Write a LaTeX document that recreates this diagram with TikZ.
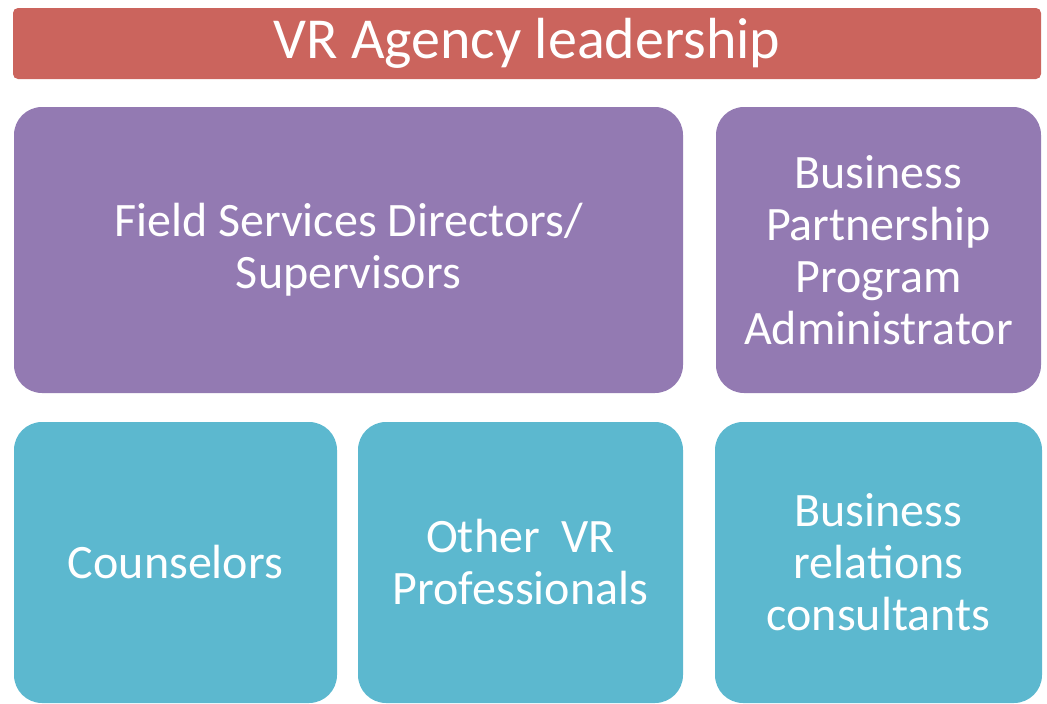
\documentclass[tikz,border=0pt]{standalone}
\usepackage{fontspec}
\setmainfont{Carlito}
\definecolor{leadred}{HTML}{CB645D}
\definecolor{midpurple}{HTML}{937AB2}
\definecolor{staffteal}{HTML}{5CB8CF}
\tikzset{
  unit/.style={fill=#1, text=white, align=center, inner sep=0pt,
    rounded corners=28pt, font=\fontsize{48}{52}\selectfont},
}
\begin{document}
\begin{tikzpicture}[x=1pt, y=-1pt]
\useasboundingbox (0,0) rectangle (1047,704);
% top bar
\node[unit=leadred, rounded corners=5pt, minimum width=1028pt, minimum height=71pt,
  font=\fontsize{58}{66}\selectfont] (lead) at (527,43.5) {VR Agency leadership};
% middle row
\node[unit=midpurple, minimum width=669pt, minimum height=286pt] (fsd) at (348.5,250)
  {Field Services Directors/\\Supervisors};
\node[unit=midpurple, minimum width=325pt, minimum height=286pt] (bppa) at (878.5,250)
  {Business\\Partnership\\Program\\Administrator};
% bottom row
\node[unit=staffteal, minimum width=323pt, minimum height=281pt] (couns) at (175.5,562.5)
  {Counselors};
\node[unit=staffteal, minimum width=325pt, minimum height=281pt] (other) at (520.5,562.5)
  {Other~ VR\\Professionals};
\node[unit=staffteal, minimum width=327pt, minimum height=281pt] (brc) at (878.5,562.5)
  {Business\\relations\\consultants};
\end{tikzpicture}
\end{document}
